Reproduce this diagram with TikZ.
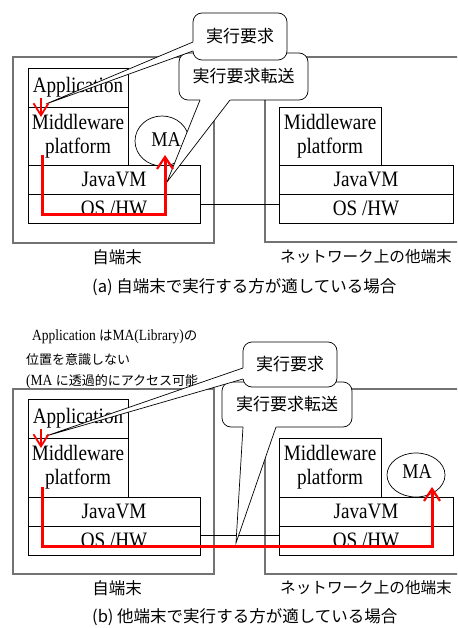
\documentclass[tikz,border=0pt]{standalone}
\usepackage{fontspec}
\setmainfont{Liberation Serif}[FakeStretch=0.87]
\newfontfamily\jp{Noto Sans CJK JP}
\usetikzlibrary{arrows.meta,calc,shapes.geometric}
\begin{document}
\begin{tikzpicture}[x=1pt,y=-1pt,
  blk/.style={anchor=north west, inner sep=0pt, outer sep=0pt},
  outer/.style={blk, draw=black!55, line width=1.4pt, fill=white},
  layer/.style={blk, draw=black, line width=0.7pt, fill=white, align=center,
    font=\fontsize{22}{24}\selectfont},
  maell/.style={ellipse, draw=black, line width=0.7pt, fill=white, inner sep=0pt},
  matext/.style={inner sep=0pt, font=\fontsize{21}{22}\selectfont},
  callout/.style={draw=black, line width=0.7pt, fill=white, rounded corners=9pt,
    inner sep=0pt, font=\jp\fontsize{17}{20}\selectfont},
  tailline/.style={draw=black, line width=0.7pt, line join=miter},
  conn/.style={draw=black, line width=0.7pt},
  redbig/.style={draw=red, line width=3pt,
    -{Straight Barb[length=12pt,width=16pt,line width=2.2pt]}},
  redsmall/.style={draw=red, line width=2pt,
    -{Straight Barb[length=12pt,width=15pt,line width=1.8pt]}},
  jplabel/.style={inner sep=0pt, font=\jp\fontsize{16.5}{18}\selectfont},
  netlabel/.style={anchor=west, inner sep=0pt, font=\jp\fontsize{15.6}{18}\selectfont},
  note/.style={anchor=west, inner sep=0pt, font=\fontsize{15.5}{17}\selectfont}
]
\useasboundingbox (0,0) rectangle (457,628);
\fill[white] (0,0) rectangle (457,628);
\clip (0,0) rectangle (457,628);

% ================= Panel (a) =================
\node[outer, minimum width=201pt, minimum height=186pt] (LA) at (13,57) {};
\node[outer, minimum width=220pt, minimum height=185pt] (RA) at (265,57) {};
\node[layer, minimum width=100pt, minimum height=39pt] (appA) at (28,68) {Application};
\node[layer, minimum width=100pt, minimum height=58pt] (mwA) at (28,107) {Middleware\\platform};
\node[maell, minimum width=54pt, minimum height=50pt] (maA) at (162,141) {};
\node[matext] (maAt) at (166,140) {MA};
\node[layer, minimum width=172pt, minimum height=29pt] (jvmA) at (28,165) {JavaVM};
\node[layer, minimum width=172pt, minimum height=29pt] (osA) at (28,194) {OS /HW};
\node[layer, minimum width=102pt, minimum height=58pt] (mwRA) at (279,107) {Middleware\\platform};
\node[layer, minimum width=174pt, minimum height=29pt] (jvmRA) at (279,165) {JavaVM};
\node[layer, minimum width=174pt, minimum height=29pt] (osRA) at (279,194) {OS /HW};
\draw[conn] ([yshift=4.5pt]osA.east) -- ([yshift=4.5pt]osRA.west);

\node[jplabel] (selfA) at (117,257) {自端末};
\node[netlabel] (otherA) at (280,257) {ネットワーク上の他端末};
\node[jplabel, anchor=west] (capA) at (92,287) {(a) 自端末で実行する方が適している場合};

% callout 2 (a)
\node[callout, minimum width=129pt, minimum height=47pt] (CA2) at (243.5,76.5) {実行要求転送};
\coordinate (CA2a) at (200,100);
\coordinate (CA2b) at (230,100);
\coordinate (CA2t) at (167,182);
\fill[white] ($(CA2t)!1.03!(CA2a)$) -- (CA2t) -- ($(CA2t)!1.03!(CA2b)$) -- cycle;
\draw[tailline] (CA2a) -- (CA2t) -- (CA2b);
% callout 1 (a)
\node[callout, minimum width=94pt, minimum height=47pt] (CA1) at (240,36.5) {実行要求};
\coordinate (CA1a) at (193,42);
\coordinate (CA1b) at (193,51);
\coordinate (CA1t) at (46,104);
\fill[white] ($(CA1t)!1.02!(CA1a)$) -- (CA1t) -- ($(CA1t)!1.02!(CA1b)$) -- cycle;
\draw[tailline] (CA1a) -- (CA1t) -- (CA1b);

% red arrows (a)
\coordinate (sA1) at (41,98);
\coordinate (sA2) at (41,117);
\draw[redsmall] (sA1) -- (sA2);
\coordinate (rsA) at (42,155);
\coordinate (reA) at (165,155);
\draw[redbig] (rsA) -- (42,214) -| (reA);

% ================= Panel (b) =================
\node[note, anchor=west] (n1) at (32,337) {Application {\jp\fontsize{13.5}{15}\selectfont は}MA(Library){\jp\fontsize{13.5}{15}\selectfont の}};
\node[note, font=\jp\fontsize{13}{15}\selectfont] (n2) at (26,360) {位置を意識しない};
\node[note] (n3) at (26,382) {(MA {\jp\fontsize{13}{15}\selectfont に透過的にアクセス可能}};

\node[outer, minimum width=201pt, minimum height=185pt] (LB) at (13,389) {};
\node[outer, minimum width=220pt, minimum height=185pt] (RB) at (265,389) {};
\node[layer, minimum width=100pt, minimum height=39pt] (appB) at (28,399) {Application};
\node[layer, minimum width=100pt, minimum height=59pt] (mwB) at (28,438) {Middleware\\platform};
\node[layer, minimum width=172pt, minimum height=29pt] (jvmB) at (28,497) {JavaVM};
\node[layer, minimum width=172pt, minimum height=29pt] (osB) at (28,526) {OS /HW};
\node[layer, minimum width=102pt, minimum height=59pt] (mwRB) at (279,438) {Middleware\\platform};
\node[maell, minimum width=58pt, minimum height=44pt] (maB) at (416,475) {};
\node[matext] (maBt) at (417,472) {MA};
\node[layer, minimum width=174pt, minimum height=29pt] (jvmRB) at (279,497) {JavaVM};
\node[layer, minimum width=174pt, minimum height=29pt] (osRB) at (279,526) {OS /HW};
\draw[conn] ([yshift=5.5pt]osB.east) -- ([yshift=5.5pt]osRB.west);

\node[jplabel] (selfB) at (117,588) {自端末};
\node[netlabel] (otherB) at (280,588) {ネットワーク上の他端末};
\node[jplabel, anchor=west] (capB) at (92,617) {(b) 他端末で実行する方が適している場合};

% callout 2 (b)
\node[callout, minimum width=130pt, minimum height=45pt] (CB2) at (287,404.5) {実行要求転送};
\coordinate (CB2a) at (243,427);
\coordinate (CB2b) at (276,427);
\coordinate (CB2t) at (236,543);
\fill[white] ($(CB2t)!1.025!(CB2a)$) -- (CB2t) -- ($(CB2t)!1.025!(CB2b)$) -- cycle;
\draw[tailline] (CB2a) -- (CB2t) -- (CB2b);
% callout 1 (b)
\node[callout, minimum width=94pt, minimum height=45pt] (CB1) at (290,364.5) {実行要求};
\coordinate (CB1a) at (243,368);
\coordinate (CB1b) at (243,379);
\coordinate (CB1t) at (46,436);
\fill[white] ($(CB1t)!1.02!(CB1a)$) -- (CB1t) -- ($(CB1t)!1.02!(CB1b)$) -- cycle;
\draw[tailline] (CB1a) -- (CB1t) -- (CB1b);

% red arrows (b)
\coordinate (sB1) at (41,429);
\coordinate (sB2) at (41,448);
\draw[redsmall] (sB1) -- (sB2);
\coordinate (rsB) at (42,487);
\coordinate (reB) at (432,487);
\draw[redbig] (rsB) -- (42,546) -| (reB);
\end{tikzpicture}
\end{document}
